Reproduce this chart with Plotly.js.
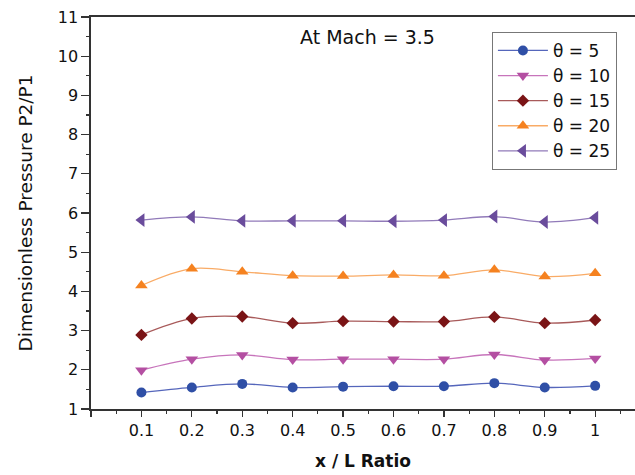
<!DOCTYPE html>
<html>
<head>
<meta charset="utf-8">
<script src="https://cdn.plot.ly/plotly-3.0.1.min.js"></script>
<style>html,body{margin:0;padding:0;background:#fff;}#chart{width:635px;height:475px;}</style>
</head>
<body>
<div id="chart"></div>
<script>
const xRatio = [0.1, 0.2, 0.3, 0.4, 0.5, 0.6, 0.7, 0.8, 0.9, 1.0];
const theta5  = [1.42, 1.55, 1.64, 1.55, 1.57, 1.58, 1.58, 1.66, 1.55, 1.59];
const theta10 = [1.99, 2.27, 2.38, 2.26, 2.27, 2.27, 2.27, 2.39, 2.25, 2.29];
const theta15 = [2.89, 3.31, 3.36, 3.19, 3.24, 3.23, 3.23, 3.35, 3.19, 3.27];
const theta20 = [4.15, 4.58, 4.50, 4.40, 4.39, 4.42, 4.40, 4.55, 4.38, 4.46];
const theta25 = [5.82, 5.90, 5.80, 5.80, 5.80, 5.79, 5.82, 5.91, 5.77, 5.88];
const seriesNames = ['θ = 5', 'θ = 10', 'θ = 15', 'θ = 20', 'θ = 25'];
const xTickVals = [0, 0.1, 0.2, 0.3, 0.4, 0.5, 0.6, 0.7, 0.8, 0.9, 1.0];
const xTickText = ['', '0.1', '0.2', '0.3', '0.4', '0.5', '0.6', '0.7', '0.8', '0.9', '1'];
const annotationText = 'At Mach = 3.5';

const FONT = 'DejaVu Sans, Liberation Sans, Arial, sans-serif';
const styles = [
  {mc: '#2f4fa6', lc: '#5566bb', sym: 'circle', size: 10},
  {mc: '#b44fa2', lc: '#c774bb', sym: 'triangle-down', size: 11},
  {mc: '#7a1416', lc: '#a85a5a', sym: 'diamond', size: 9.5},
  {mc: '#f58220', lc: '#f9ab66', sym: 'triangle-up', size: 11},
  {mc: '#6a4c9c', lc: '#917ab9', sym: 'triangle-left', size: 12}
];
const ys = [theta5, theta10, theta15, theta20, theta25];

const traces = ys.map((y, i) => ({
  x: xRatio, y: y, name: seriesNames[i], type: 'scatter', mode: 'lines+markers',
  line: {color: styles[i].lc, width: 1.3, shape: 'spline', smoothing: 1},
  marker: {color: styles[i].mc, symbol: styles[i].sym, size: styles[i].size, line: {width: 0}}
}));

const axisFont = {family: FONT, size: 16, color: '#111'};

const layout = {
  width: 635, height: 475,
  margin: {l: 91, r: 0, t: 17, b: 66},
  paper_bgcolor: '#fff', plot_bgcolor: '#fff',
  showlegend: true,
  font: {family: FONT, color: '#111'},
  xaxis: {
    range: [0, 1.079], tickvals: xTickVals, ticktext: xTickText,
    ticks: 'outside', ticklen: 6, tickwidth: 1.3, tickcolor: '#333',
    showline: true, linecolor: '#333', linewidth: 1.6, mirror: true,
    showgrid: false, zeroline: false, tickfont: axisFont,
    minor: {ticks: 'outside', ticklen: 3, tickwidth: 1.2, tickcolor: '#333', dtick: 0.05, tick0: 0, showgrid: false},
    title: {text: '<b>x / L Ratio</b>', font: {family: FONT, size: 17, color: '#111'}, standoff: 16}
  },
  yaxis: {
    range: [1, 11], dtick: 1, tick0: 1,
    ticks: 'outside', ticklen: 8, tickwidth: 1.3, tickcolor: '#333',
    showline: true, linecolor: '#333', linewidth: 1.6,
    showgrid: false, zeroline: false, tickfont: axisFont,
    minor: {ticks: 'outside', ticklen: 3, tickwidth: 1.2, tickcolor: '#333', dtick: 0.5, tick0: 1, showgrid: false},
    title: {text: 'Dimensionless Pressure P2/P1', font: {family: FONT, size: 18.5, color: '#111'}, standoff: 20}
  },
  legend: {
    x: 0.737, y: 0.962, xanchor: 'left', yanchor: 'top',
    bgcolor: '#fff', bordercolor: '#777', borderwidth: 1,
    font: {family: FONT, size: 17, color: '#111'},
    itemwidth: 50, tracegroupgap: 0
  },
  annotations: [{
    text: annotationText, xref: 'paper', yref: 'paper',
    x: (367 - 91) / 544, y: (409 - 37) / 392, xanchor: 'center', yanchor: 'middle',
    showarrow: false, font: {family: FONT, size: 19, color: '#111'}
  }]
};

Plotly.newPlot('chart', traces, layout, {displayModeBar: false, staticPlot: true});
</script>
</body>
</html>
